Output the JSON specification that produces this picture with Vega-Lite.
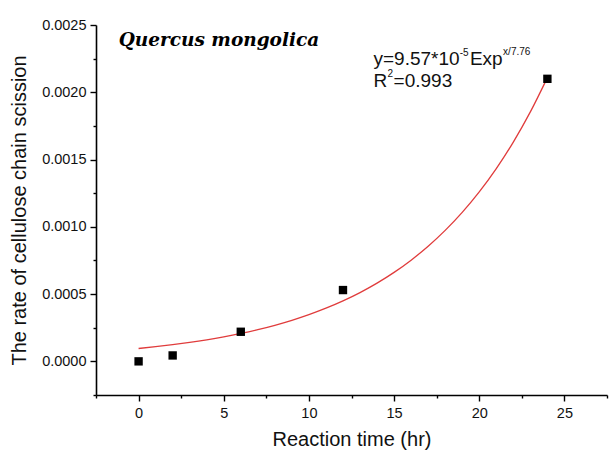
{
  "$schema": "https://vega.github.io/schema/vega-lite/v6.json",
  "width": 511,
  "height": 370,
  "autosize": "none",
  "padding": {"left": 96, "top": 25, "right": 9, "bottom": 79},
  "background": "white",
  "config": {"view": {"stroke": null}},
  "encoding": {
    "x": {
      "field": "x", "type": "quantitative",
      "scale": {"domain": [-2.5, 27.5], "nice": false, "zero": false},
      "axis": {
        "title": "Reaction time (hr)",
        "values": [-2.5, 0, 2.5, 5, 7.5, 10, 12.5, 15, 17.5, 20, 22.5, 25, 27.5],
        "labelExpr": "datum.value % 5 === 0 ? datum.label : ''",
        "tickSize": {"condition": {"test": "datum.value % 5 === 0", "value": 6}, "value": 3},
        "grid": false,
        "domainColor": "#000000", "domainWidth": 1.6,
        "tickColor": "#000000", "tickWidth": 1.4,
        "labelFont": "Liberation Sans", "labelFontSize": 14.5, "labelColor": "#111111", "labelPadding": 5,
        "titleFont": "Liberation Sans", "titleFontSize": 20, "titleFontWeight": "normal", "titleColor": "#111111", "titlePadding": 10
      }
    },
    "y": {
      "field": "y", "type": "quantitative",
      "scale": {"domain": [-0.00025, 0.0025], "nice": false, "zero": false},
      "axis": {
        "title": "The rate of cellulose chain scission",
        "values": [-0.00025, 0, 0.00025, 0.0005, 0.00075, 0.001, 0.00125, 0.0015, 0.00175, 0.002, 0.00225, 0.0025],
        "format": ".4f",
        "labelExpr": "abs(datum.value/0.0005 - round(datum.value/0.0005)) < 0.000001 ? datum.label : ''",
        "tickSize": {"condition": {"test": "abs(datum.value/0.0005 - round(datum.value/0.0005)) < 0.000001", "value": 6}, "value": 3},
        "grid": false,
        "domainColor": "#000000", "domainWidth": 1.6,
        "tickColor": "#000000", "tickWidth": 1.4,
        "labelFont": "Liberation Sans", "labelFontSize": 14.5, "labelColor": "#111111", "labelPadding": 4,
        "titleFont": "Liberation Sans", "titleFontSize": 20, "titleFontWeight": "normal", "titleColor": "#111111", "titlePadding": 12
      }
    }
  },
  "layer": [
    {
      "data": {"values": [
        {"x": 0, "y": 0.0000957}, {"x": 1, "y": 0.00010886}, {"x": 2, "y": 0.00012384}, {"x": 3, "y": 0.00014087},
        {"x": 4, "y": 0.00016024}, {"x": 5, "y": 0.00018228}, {"x": 6, "y": 0.00020735}, {"x": 7, "y": 0.00023587},
        {"x": 8, "y": 0.00026831}, {"x": 9, "y": 0.00030522}, {"x": 10, "y": 0.0003472}, {"x": 11, "y": 0.00039495},
        {"x": 12, "y": 0.00044927}, {"x": 13, "y": 0.00051106}, {"x": 14, "y": 0.00058135}, {"x": 15, "y": 0.00066131},
        {"x": 16, "y": 0.00075227}, {"x": 17, "y": 0.00085573}, {"x": 18, "y": 0.00097342}, {"x": 19, "y": 0.00110731},
        {"x": 20, "y": 0.0012596}, {"x": 21, "y": 0.00143285}, {"x": 22, "y": 0.00162992}, {"x": 23, "y": 0.00185409},
        {"x": 24, "y": 0.0021091}
      ]},
      "mark": {"type": "line", "color": "#e03c3c", "strokeWidth": 1.3, "interpolate": "monotone"}
    },
    {
      "data": {"values": [
        {"x": 0, "y": 0.0}, {"x": 2, "y": 0.000044}, {"x": 6, "y": 0.00022}, {"x": 12, "y": 0.00053}, {"x": 24, "y": 0.0021}
      ]},
      "mark": {"type": "point", "shape": "square", "filled": true, "color": "#000000", "size": 70, "opacity": 1}
    },
    {
      "data": {"values": [{"x": -1.17, "y": 0.002345, "text": "Quercus  mongolica"}]},
      "mark": {"type": "text", "align": "left", "baseline": "alphabetic", "font": "DejaVu Serif", "fontStyle": "italic", "fontWeight": "bold", "fontSize": 18.5, "color": "#000000"},
      "encoding": {"text": {"field": "text"}}
    },
    {
      "data": {"values": [
        {"x": 13.79, "y": 0.002203, "text": "y=9.57*10"},
        {"x": 19.45, "y": 0.002203, "text": "Exp"},
        {"x": 13.79, "y": 0.00204, "text": "R"},
        {"x": 14.97, "y": 0.00204, "text": "=0.993"}
      ]},
      "mark": {"type": "text", "align": "left", "baseline": "alphabetic", "font": "Liberation Sans", "fontSize": 19, "color": "#111111"},
      "encoding": {"text": {"field": "text"}}
    },
    {
      "data": {"values": [
        {"x": 18.85, "y": 0.00227, "text": "-5"},
        {"x": 21.4, "y": 0.00228, "text": "x/7.76"},
        {"x": 14.62, "y": 0.002115, "text": "2"}
      ]},
      "mark": {"type": "text", "align": "left", "baseline": "alphabetic", "font": "Liberation Sans", "fontSize": 10, "color": "#111111"},
      "encoding": {"text": {"field": "text"}}
    }
  ]
}
